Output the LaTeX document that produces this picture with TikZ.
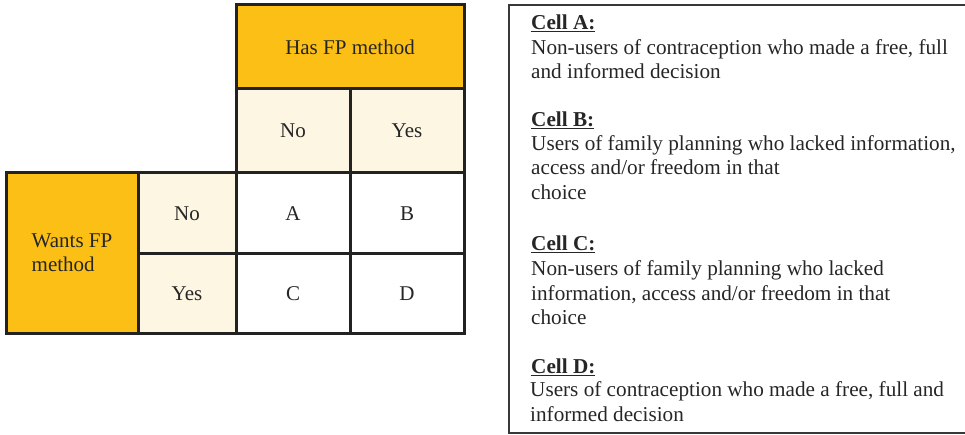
\documentclass[tikz,border=0pt]{standalone}
\usepackage{fontspec}
\setmainfont{Liberation Serif}
\definecolor{gold}{HTML}{FBBF16}
\definecolor{cream}{HTML}{FDF6E3}
\definecolor{edge}{HTML}{222222}
\begin{document}
\begin{tikzpicture}[x=1pt,y=-1pt,
  cell/.style={draw=edge,line width=3pt,inner sep=0pt,font=\fontsize{21}{24}\selectfont,text=black!85},
  hdr/.style={cell,fill=gold},
  sub/.style={cell,fill=cream},
  plain/.style={cell,fill=white},
  ln/.style={anchor=base west,inner sep=0pt,font=\fontsize{21.2}{24}\selectfont,text=black!85},
  ttl/.style={ln,font=\fontsize{21.2}{24}\selectfont\bfseries}]
\useasboundingbox (0,0) rectangle (965,435);
\node[hdr,minimum width=228pt,minimum height=84pt] (has) at (350,47) {Has FP method};
\node[sub,minimum width=114pt,minimum height=84pt] (hno) at (293,131) {No};
\node[sub,minimum width=114pt,minimum height=84pt] (hyes) at (407,131) {Yes};
\node[hdr,minimum width=132pt,minimum height=160pt,align=left] (wants) at (72,253) {Wants FP\\method};
\node[sub,minimum width=98pt,minimum height=81pt] (rno) at (187,213.5) {No};
\node[sub,minimum width=98pt,minimum height=79pt] (ryes) at (187,293.5) {Yes};
\node[plain,minimum width=114pt,minimum height=81pt] (a) at (293,213.5) {A};
\node[plain,minimum width=114pt,minimum height=81pt] (b) at (407,213.5) {B};
\node[plain,minimum width=114pt,minimum height=79pt] (c) at (293,293.5) {C};
\node[plain,minimum width=114pt,minimum height=79pt] (d) at (407,293.5) {D};
% legend box
\draw[draw=edge!90,line width=2pt] (970,5) -- (509,5) -- (509,433) -- (970,433);
\node[ttl] (ta) at (531,30) {\underline{Cell A:}};
\node[ln] (ta1) at (531,55) {Non-users of contraception who made a free, full};
\node[ln] (ta2) at (531,79) {and informed decision};
\node[ttl] (tb) at (531,127) {\underline{Cell B:}};
\node[ln] (tb1) at (531,151) {Users of family planning who lacked information,};
\node[ln] (tb2) at (531,175) {access and/or freedom in that};
\node[ln] (tb3) at (531,200) {choice};
\node[ttl] (tc) at (531,251) {\underline{Cell C:}};
\node[ln] (tc1) at (531,276) {Non-users of family planning who lacked};
\node[ln] (tc2) at (531,300) {information, access and/or freedom in that};
\node[ln] (tc3) at (531,324) {choice};
\node[ttl] (td) at (531,373) {\underline{Cell D:}};
\node[ln] (td1) at (530,396) {Users of contraception who made a free, full and};
\node[ln] (td2) at (530,421) {informed decision};
\end{tikzpicture}
\end{document}
